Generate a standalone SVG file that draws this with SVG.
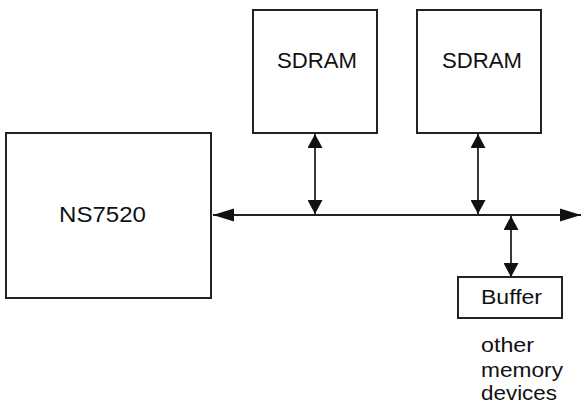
<svg xmlns="http://www.w3.org/2000/svg" width="587" height="412" viewBox="0 0 587 412">
<defs>
<style>
.box{fill:#fff;stroke:#222;stroke-width:2}
.t{font-family:"Liberation Sans",Arial,sans-serif;fill:#111}
.ln{stroke:#222;stroke-width:1.8;fill:none}
</style>
<marker id="ah" markerUnits="userSpaceOnUse" markerWidth="22" markerHeight="14" refX="21" refY="7" orient="auto-start-reverse" viewBox="0 0 22 14">
<path d="M0,0.5 L21,7 L0,13.5 Z" fill="#111"/>
</marker>
<marker id="av" markerUnits="userSpaceOnUse" markerWidth="15" markerHeight="15" refX="14" refY="7.5" orient="auto-start-reverse" viewBox="0 0 15 15">
<path d="M0,0 L14,7.5 L0,15 Z" fill="#111"/>
</marker>
</defs>
<rect width="587" height="412" fill="#fff"/>
<g id="connectors">
<line class="ln" x1="213" y1="215" x2="581" y2="215" marker-start="url(#ah)" marker-end="url(#ah)"/>
<line class="ln" x1="315" y1="134" x2="315" y2="214" marker-start="url(#av)" marker-end="url(#av)"/>
<line class="ln" x1="478" y1="134" x2="478" y2="214" marker-start="url(#av)" marker-end="url(#av)" stroke-width="2.4"/>
<line class="ln" x1="511" y1="216" x2="511" y2="277" marker-start="url(#av)" marker-end="url(#av)"/>
</g>
<g id="ns7520">
<rect class="box" x="6" y="133" width="205" height="165"/>
<text class="t" x="59" y="222" font-size="22" textLength="87" lengthAdjust="spacingAndGlyphs">NS7520</text>
</g>
<g id="sdram1">
<rect class="box" x="253" y="10" width="124" height="123"/>
<text class="t" x="277" y="68" font-size="22" textLength="80" lengthAdjust="spacingAndGlyphs">SDRAM</text>
</g>
<g id="sdram2">
<rect class="box" x="417" y="10" width="124" height="123"/>
<text class="t" x="442" y="68" font-size="22" textLength="80" lengthAdjust="spacingAndGlyphs">SDRAM</text>
</g>
<g id="buffer">
<rect class="box" x="458" y="277" width="104" height="41"/>
<text class="t" x="481" y="304" font-size="20" textLength="61" lengthAdjust="spacingAndGlyphs">Buffer</text>
</g>
<g id="other-label">
<text class="t" x="481" y="352" font-size="21" textLength="53" lengthAdjust="spacingAndGlyphs">other</text>
<text class="t" x="481" y="377" font-size="21" textLength="82" lengthAdjust="spacingAndGlyphs">memory</text>
<text class="t" x="481" y="400" font-size="21" textLength="76" lengthAdjust="spacingAndGlyphs">devices</text>
</g>
</svg>
